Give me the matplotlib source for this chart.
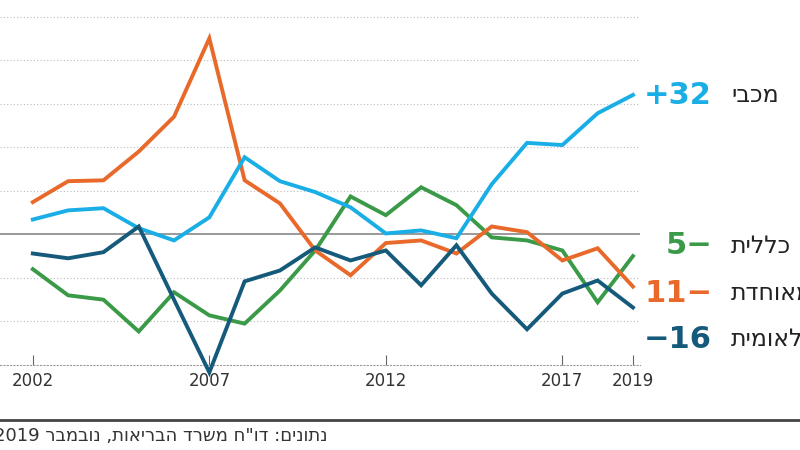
import matplotlib.pyplot as plt

years = list(range(2002, 2020))
maccabi = [3.4, 5.5, 6.0, 1.4, -1.4, 3.9, 17.7, 12.2, 9.7, 6.2, 0.2, 0.9, -0.9, 11.5, 21.0, 20.5, 27.8, 32.0]
meuhedet = [7.4, 12.2, 12.4, 19.0, 27.0, 45.0, 12.4, 7.1, -3.7, -9.4, -2.0, -1.4, -4.4, 1.8, 0.5, -6.0, -3.2, -12.0]
clalit = [-8.0, -14.0, -15.0, -22.3, -13.3, -18.6, -20.5, -12.9, -3.7, 8.7, 4.4, 10.8, 6.7, -0.7, -1.4, -3.7, -15.6, -5.0]
leumit = [-4.4, -5.5, -4.1, 1.8, -15.0, -31.7, -10.8, -8.3, -3.0, -6.0, -3.7, -11.7, -2.5, -13.6, -21.8, -13.6, -10.6, -16.8]
tick_years = [2002, 2007, 2012, 2017, 2019]

# Hebrew strings stored in visual (left-to-right) order
labels = [
    ("יבכמ", "+32", "#1aaee6", 95),
    ("תיללכ", "5−", "#3a9a48", 246),
    ("תדחואמ", "11−", "#e8692a", 293),
    ("תימואל", "−16", "#155a7a", 339),
]
source = "2019 רבמבונ ,תואירבה דרשמ ח\"וד :םינותנ"

plt.rcParams['font.family'] = ['Liberation Sans Narrow', 'DejaVu Sans']
fig = plt.figure(figsize=(8, 4.5), dpi=100)
ax = fig.add_axes([0, 1 - 365 / 450, 0.8, 365 / 450])
ax.set_xlim(2001.07, 2019.2)
ax.set_ylim(-30, 53.8)

for v in [50, 40, 30, 20, 10, -10, -20]:
    ax.axhline(v, color="#bbbbbb", lw=0.8, ls=(0, (1, 2)), zorder=1)
ax.axhline(0, color="#888888", lw=1.2, zorder=1)

for vals, col in [(clalit, "#3a9a48"), (meuhedet, "#e8692a"),
                  (maccabi, "#1aaee6"), (leumit, "#155a7a")]:
    ax.plot(years, vals, color=col, lw=2.8, solid_joinstyle="miter", clip_on=False, zorder=3)

for s in ["top", "right", "left"]:
    ax.spines[s].set_visible(False)
ax.spines["bottom"].set_color("#999999")
ax.spines["bottom"].set_linestyle((0, (1, 2)))
ax.set_yticks([])
ax.set_xticks(tick_years)
ax.set_xticklabels([str(y) for y in tick_years], fontsize=12, color="#333333")
ax.tick_params(axis="x", direction="in", length=7, color="#666666", pad=5)

for name, num, col, ypx in labels:
    yf = 1 - ypx / 450
    fig.text(712 / 800, yf, num, ha="right", va="center", fontsize=22,
             fontweight="bold", color=col)
    # the reference crops the longer names at the right edge
    fig.text(731 / 800, yf, name, ha="left", va="center", fontsize=17,
             color="#222222", family="DejaVu Sans")

fig.add_artist(plt.Line2D([0, 1], [1 - 420 / 450] * 2, color="#444444", lw=2))
fig.text(327 / 800, 1 - 436 / 450, source, ha="right", va="center", fontsize=13,
         color="#333333", family="DejaVu Sans")

fig.savefig("out.png", dpi=100)
